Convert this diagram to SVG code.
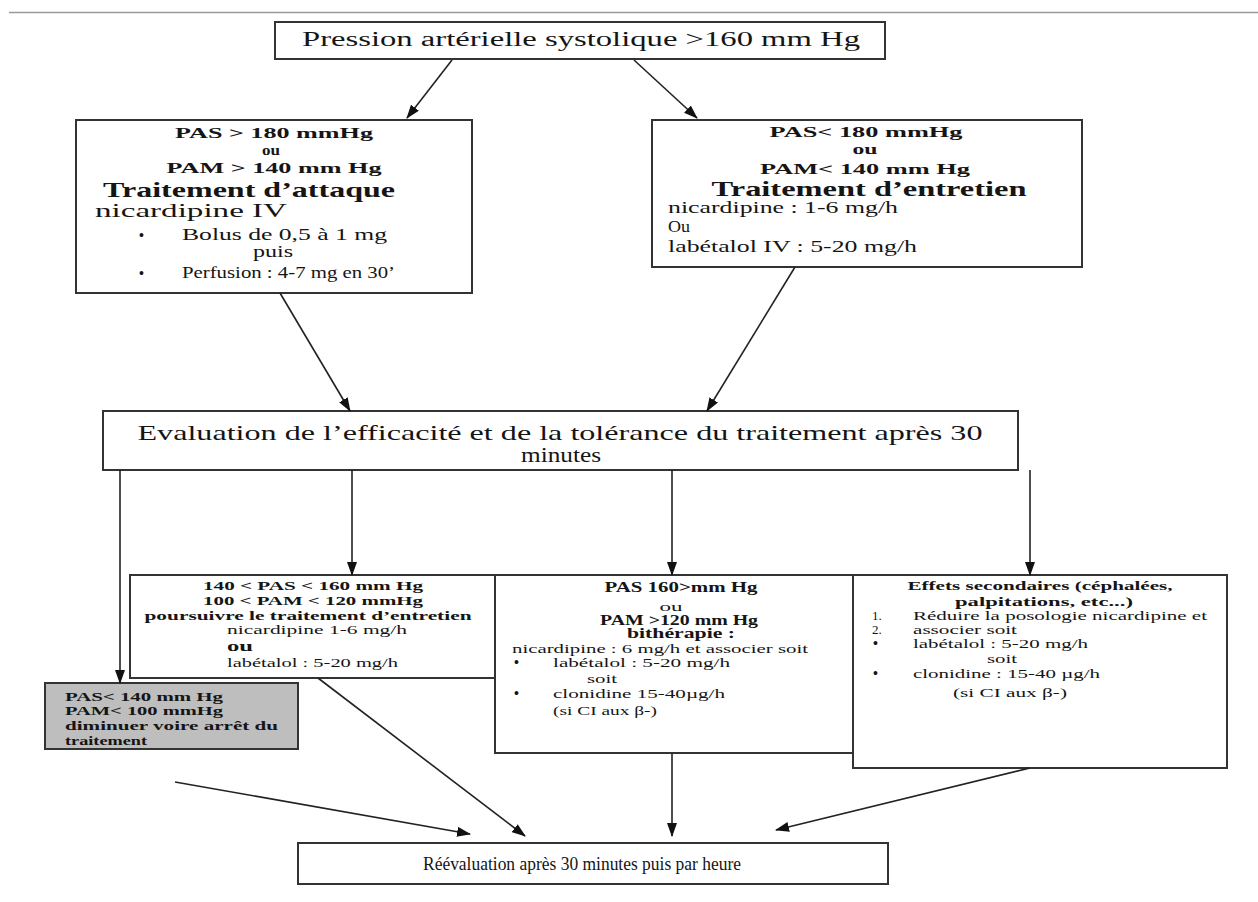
<svg xmlns="http://www.w3.org/2000/svg" width="1258" height="902" viewBox="0 0 1258 902">
<style>
.box{fill:#fff;stroke:#333;stroke-width:2}
.gbox{fill:#bebebe;stroke:#333;stroke-width:2}
text{font-family:'Liberation Serif','DejaVu Serif',serif;fill:#151515}
.b{font-weight:bold}
.c{text-anchor:middle}
.bu{font-size:14px;font-weight:bold}
.con line{stroke:#222;stroke-width:1.6;marker-end:url(#ah)}
</style>
<defs>
<marker id="ah" markerWidth="14" markerHeight="10" refX="13" refY="5" orient="auto" markerUnits="userSpaceOnUse">
<path d="M0,0 L14,5 L0,10 z" fill="#111"/>
</marker>
</defs>
<rect width="1258" height="902" fill="#fff"/>
<line x1="9" y1="12.5" x2="1258" y2="12.5" stroke="#9a9a9a" stroke-width="1.5"/>

<g id="top">
<rect class="box" x="275" y="22" width="610" height="37"/>
<text x="302" y="46" font-size="20" textLength="558" lengthAdjust="spacingAndGlyphs">Pression artérielle systolique &gt;160 mm Hg</text>
</g>

<g id="attaque">
<rect class="box" x="76" y="120" width="396" height="173"/>
<text class="b c" x="274" y="138" font-size="15" textLength="198" lengthAdjust="spacingAndGlyphs">PAS &gt; 180 mmHg</text>
<text class="b c" x="271" y="155" font-size="14" textLength="18" lengthAdjust="spacingAndGlyphs">ou</text>
<text class="b c" x="274" y="173" font-size="15" textLength="215" lengthAdjust="spacingAndGlyphs">PAM &gt; 140 mm Hg</text>
<text class="b" x="103" y="197" font-size="22" textLength="292" lengthAdjust="spacingAndGlyphs">Traitement d’attaque</text>
<text x="95" y="217" font-size="19" textLength="192" lengthAdjust="spacingAndGlyphs">nicardipine IV</text>
<text class="bu" x="139" y="240">•</text>
<text x="182" y="240" font-size="16" textLength="205" lengthAdjust="spacingAndGlyphs">Bolus de 0,5 à 1 mg</text>
<text x="253" y="257" font-size="16" textLength="40" lengthAdjust="spacingAndGlyphs">puis</text>
<text class="bu" x="139" y="278">•</text>
<text x="182" y="278" font-size="16" textLength="213" lengthAdjust="spacingAndGlyphs">Perfusion : 4-7 mg en 30’</text>
</g>

<g id="entretien">
<rect class="box" x="652" y="120" width="430" height="147"/>
<text class="b c" x="866" y="137" font-size="15" textLength="193" lengthAdjust="spacingAndGlyphs">PAS&lt; 180 mmHg</text>
<text class="b c" x="865" y="154" font-size="14" textLength="25" lengthAdjust="spacingAndGlyphs">ou</text>
<text class="b c" x="865" y="174" font-size="15" textLength="210" lengthAdjust="spacingAndGlyphs">PAM&lt; 140 mm Hg</text>
<text class="b c" x="869" y="196" font-size="22" textLength="315" lengthAdjust="spacingAndGlyphs">Traitement d’entretien</text>
<text x="668" y="213" font-size="16" textLength="230" lengthAdjust="spacingAndGlyphs">nicardipine : 1-6 mg/h</text>
<text x="668" y="232" font-size="16" textLength="22" lengthAdjust="spacingAndGlyphs">Ou</text>
<text x="668" y="252" font-size="16" textLength="249" lengthAdjust="spacingAndGlyphs">labétalol IV : 5-20 mg/h</text>
</g>

<g id="evaluation">
<rect class="box" x="103" y="411" width="915" height="59"/>
<text class="c" x="560" y="440" font-size="21" textLength="845" lengthAdjust="spacingAndGlyphs">Evaluation de l’efficacité et de la tolérance du traitement après 30</text>
<text class="c" x="561" y="462" font-size="21" textLength="80" lengthAdjust="spacingAndGlyphs">minutes</text>
</g>

<g id="poursuivre">
<rect class="box" x="130" y="575" width="365" height="103"/>
<text class="b c" x="313" y="590" font-size="13" textLength="220" lengthAdjust="spacingAndGlyphs">140 &lt; PAS &lt; 160 mm Hg</text>
<text class="b c" x="313" y="605" font-size="13" textLength="220" lengthAdjust="spacingAndGlyphs">100 &lt; PAM &lt; 120 mmHg</text>
<text class="b c" x="308" y="620" font-size="13" textLength="327" lengthAdjust="spacingAndGlyphs">poursuivre le traitement d’entretien</text>
<text x="227" y="634" font-size="13" textLength="180" lengthAdjust="spacingAndGlyphs">nicardipine  1-6 mg/h</text>
<text class="b" x="227" y="651" font-size="14" textLength="26" lengthAdjust="spacingAndGlyphs">ou</text>
<text x="227" y="667" font-size="13" textLength="171" lengthAdjust="spacingAndGlyphs">labétalol : 5-20 mg/h</text>
</g>

<g id="diminuer">
<rect class="gbox" x="45" y="683" width="253" height="66"/>
<text class="b" x="65" y="701" font-size="12.5" textLength="158" lengthAdjust="spacingAndGlyphs">PAS&lt; 140 mm Hg</text>
<text class="b" x="65" y="715" font-size="12.5" textLength="158" lengthAdjust="spacingAndGlyphs">PAM&lt; 100 mmHg</text>
<text class="b" x="65" y="730" font-size="12.5" textLength="213" lengthAdjust="spacingAndGlyphs">diminuer voire arrêt du</text>
<text class="b" x="65" y="745" font-size="12.5" textLength="82" lengthAdjust="spacingAndGlyphs">traitement</text>
</g>

<g id="bitherapie">
<rect class="box" x="495" y="575" width="358" height="178"/>
<text class="b c" x="681" y="592" font-size="14" textLength="153" lengthAdjust="spacingAndGlyphs">PAS 160&gt;mm Hg</text>
<text class="c" x="671" y="611" font-size="13" textLength="23" lengthAdjust="spacingAndGlyphs">ou</text>
<text class="b c" x="679" y="625" font-size="14" textLength="158" lengthAdjust="spacingAndGlyphs">PAM &gt;120 mm Hg</text>
<text class="b c" x="681" y="638" font-size="14" textLength="108" lengthAdjust="spacingAndGlyphs">bithérapie :</text>
<text x="512" y="653" font-size="13" textLength="296" lengthAdjust="spacingAndGlyphs">nicardipine : 6 mg/h et associer soit</text>
<text class="bu" x="514" y="667">•</text>
<text x="553" y="667" font-size="13" textLength="177" lengthAdjust="spacingAndGlyphs">labétalol : 5-20 mg/h</text>
<text x="587" y="683" font-size="13" textLength="30" lengthAdjust="spacingAndGlyphs">soit</text>
<text class="bu" x="514" y="698">•</text>
<text x="553" y="698" font-size="13" textLength="172" lengthAdjust="spacingAndGlyphs">clonidine 15-40µg/h</text>
<text x="553" y="715" font-size="13" textLength="104" lengthAdjust="spacingAndGlyphs">(si CI aux β-)</text>
</g>

<g id="effets">
<rect class="box" x="853" y="575" width="374" height="193"/>
<text class="b c" x="1040" y="590" font-size="13" textLength="265" lengthAdjust="spacingAndGlyphs">Effets secondaires (céphalées,</text>
<text class="b c" x="1044" y="606" font-size="13" textLength="178" lengthAdjust="spacingAndGlyphs">palpitations, etc...)</text>
<text x="872" y="620" font-size="13">1.</text>
<text x="913" y="620" font-size="13" textLength="294" lengthAdjust="spacingAndGlyphs">Réduire la posologie nicardipine et</text>
<text x="872" y="634" font-size="13">2.</text>
<text x="913" y="634" font-size="13" textLength="104" lengthAdjust="spacingAndGlyphs">associer soit</text>
<text class="bu" x="873" y="648">•</text>
<text x="913" y="648" font-size="13" textLength="175" lengthAdjust="spacingAndGlyphs">labétalol : 5-20 mg/h</text>
<text x="987" y="663" font-size="13" textLength="30" lengthAdjust="spacingAndGlyphs">soit</text>
<text class="bu" x="873" y="678">•</text>
<text x="913" y="678" font-size="13" textLength="187" lengthAdjust="spacingAndGlyphs">clonidine : 15-40 µg/h</text>
<text x="953" y="697" font-size="13" textLength="114" lengthAdjust="spacingAndGlyphs">(si CI aux β-)</text>
</g>

<g id="reevaluation">
<rect class="box" x="298" y="843" width="590" height="41"/>
<text class="c" x="582" y="870" font-size="18" textLength="318" lengthAdjust="spacingAndGlyphs">Réévaluation après 30 minutes puis par heure</text>
</g>

<g id="connectors" class="con">
<line x1="452" y1="60" x2="407" y2="118"/>
<line x1="634" y1="60" x2="697" y2="118"/>
<line x1="280" y1="293" x2="350" y2="411"/>
<line x1="795" y1="267" x2="707" y2="411"/>
<line x1="120" y1="470" x2="120" y2="683"/>
<line x1="352" y1="470" x2="352" y2="575"/>
<line x1="672" y1="470" x2="672" y2="575"/>
<line x1="1030" y1="470" x2="1030" y2="575"/>
<line x1="175" y1="782" x2="470" y2="834"/>
<line x1="318" y1="678" x2="525" y2="836"/>
<line x1="672" y1="753" x2="672" y2="836"/>
<line x1="1030" y1="768" x2="776" y2="830"/>
</g>
</svg>
